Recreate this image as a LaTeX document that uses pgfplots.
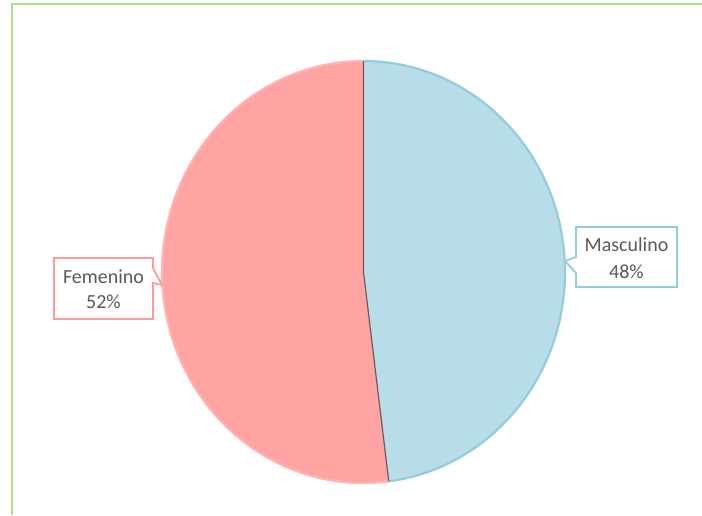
\documentclass[border=0pt]{standalone}
\usepackage{pgfplots}
\pgfplotsset{compat=1.18}
\usepackage{pgfplotstable}
\usepackage{fontspec}
\setmainfont{Carlito}
\definecolor{framegreen}{HTML}{B5DD8D}
\definecolor{masc}{HTML}{B7DDE8}
\definecolor{mascedge}{HTML}{93CDDD}
\definecolor{fem}{HTML}{FFA3A3}
\definecolor{femedge}{HTML}{FFB3B3}
\definecolor{sep}{HTML}{7A5555}
\definecolor{lbl}{HTML}{595959}

% sexo de los encuestados, en porcentaje
\pgfplotstableread{
label value
Masculino 48
Femenino 52
}\piedata

\begin{document}
\begin{tikzpicture}[x=0.5pt,y=-0.5pt]
\useasboundingbox (0,0) rectangle (702,515);
\draw[framegreen, line width=1.1pt] (12,515) -- (12,4) -- (702,4);
\pgfplotstablegetelem{0}{value}\of\piedata \let\vM\pgfplotsretval
\pgfplotstablegetelem{1}{value}\of\piedata \let\vF\pgfplotsretval
\pgfmathsetmacro\aM{90-3.6*\vM}
\pgfmathsetmacro\aF{\aM-3.6*\vF}
\begin{axis}[at={(181.75pt,-136pt)}, anchor=origin,
  x=100.75pt, y=105.5pt,
  xmin=-1, xmax=1, ymin=-1, ymax=1,
  hide axis, clip=false]
  % Masculino
  \fill[masc] (0,0) -- (0,1) arc[start angle=90, end angle=\aM, x radius=100.75pt, y radius=105.5pt] -- cycle;
  \draw[mascedge, line width=1.1pt] (0,1) arc[start angle=90, end angle=\aM, x radius=100.75pt, y radius=105.5pt];
  % Femenino
  \fill[fem] (0,0) -- ({cos(\aM)},{sin(\aM)}) arc[start angle=\aM, end angle=\aF, x radius=100.75pt, y radius=105.5pt] -- cycle;
  \draw[femedge, line width=1.1pt] ({cos(\aM)},{sin(\aM)}) arc[start angle=\aM, end angle=\aF, x radius=100.75pt, y radius=105.5pt];
  \draw[sep, line width=0.6pt] (0,1) -- (0,0) -- ({cos(\aM)},{sin(\aM)});
\end{axis}
% etiquetas
\draw[mascedge, line width=0.9pt, fill=white]
  (576,227) -- (677,227) -- (677,287) -- (576,287) -- (576,273) -- (565,261) -- (576,257) -- cycle;
\node[lbl, align=center, font=\fontsize{10}{13.5}\selectfont] at (626.5,258) {Masculino\\48\%};
\draw[femedge!80!red!90, line width=0.9pt, fill=white]
  (54,258) -- (153,258) -- (153,268) -- (162,285) -- (153,283) -- (153,319) -- (54,319) -- cycle;
\node[lbl, align=center, font=\fontsize{10}{12.5}\selectfont] at (103.5,289.5) {Femenino\\52\%};
\end{tikzpicture}
\end{document}
